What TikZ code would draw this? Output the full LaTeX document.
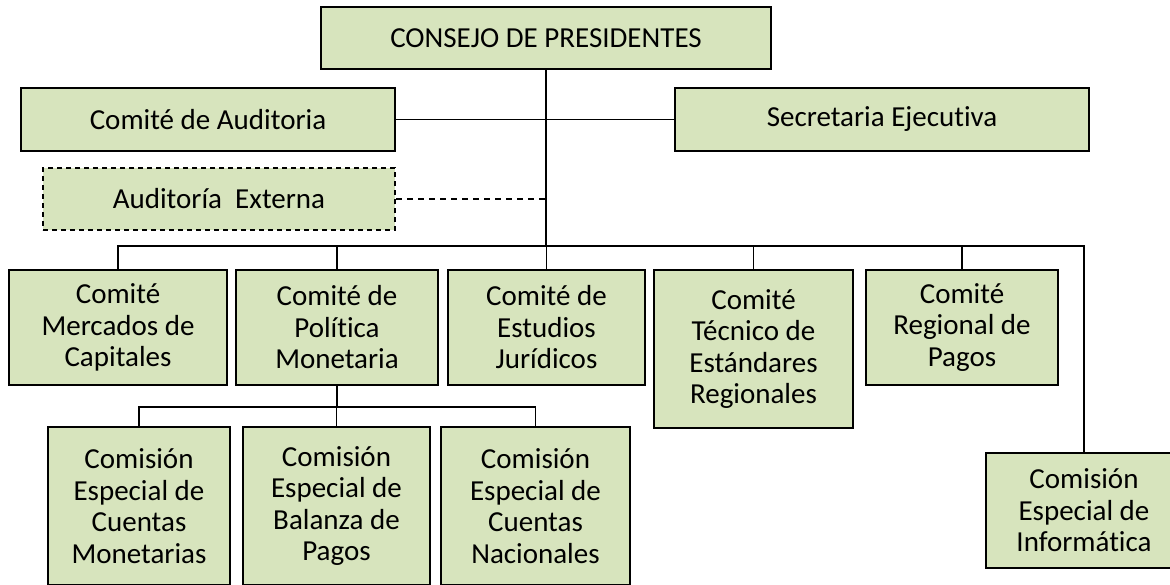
\documentclass[tikz,border=0pt]{standalone}
\usepackage{fontspec}
\setmainfont{Carlito}[Ligatures=NoCommon]
\definecolor{verde}{HTML}{D7E4BD}
\tikzset{
  caja/.style={draw=black, line width=2.2pt, fill=verde, inner sep=0pt, align=center,
    font=\fontsize{29}{31.5}\selectfont},
  linea/.style={line width=1.9pt}
}
\begin{document}
\begin{tikzpicture}[x=1pt, y=-1pt]
                \useasboundingbox (0,0) rectangle (1170,584);
                % top levels
                \node[caja, minimum width=450, minimum height=62] (consejo) at (546,38) {CONSEJO DE PRESIDENTES};
                \node[caja, minimum width=374, minimum height=63] (auditoria) at (208,119.5) {Comité de Auditoria};
                \node[caja, minimum width=414, minimum height=63] (secretaria) at (882,119.5) {Secretaria Ejecutiva};
                \node[caja, dash pattern=on 5pt off 4pt, minimum width=352, minimum height=62] (externa) at (219,199) {Auditoría\ \ Externa};
                % comites
                \node[caja, minimum width=218, minimum height=115] (mercados) at (118,327.5) {Comité\\Mercados de\\Capitales};
                \node[caja, minimum width=202, minimum height=115] (politica) at (337,327.5) {Comité de\\Política\\Monetaria};
                \node[caja, minimum width=197, minimum height=115] (juridicos) at (546.5,327.5) {Comité de\\Estudios\\Jurídicos};
                \node[caja, minimum width=199, minimum height=158] (tecnico) at (753.5,349) {Comité\\Técnico de\\Estándares\\Regionales};
                \node[caja, minimum width=192, minimum height=115] (pagos) at (962,327.5) {Comité\\Regional de\\Pagos};
                \node[caja, minimum width=196, minimum height=115] (informatica) at (1084,510.5) {Comisión\\Especial de\\Informática};
                % comisiones
                \node[caja, minimum width=182, minimum height=158] (monetarias) at (139,506) {Comisión\\Especial de\\Cuentas\\Monetarias};
                \node[caja, minimum width=187, minimum height=158] (balanza) at (336.5,506) {Comisión\\Especial de\\Balanza de\\Pagos};
                \node[caja, minimum width=189, minimum height=158] (nacionales) at (535.5,506) {Comisión\\Especial de\\Cuentas\\Nacionales};
                % lines
                \coordinate (bus) at (546,246);
                \coordinate (subbus) at (337,407);
                \draw[linea] (consejo.south) -- (bus);
                \draw[linea] (auditoria.east) -- (secretaria.west);
                \draw[linea, dash pattern=on 6pt off 5pt] (externa.east) -- (externa.east -| bus);
                \draw[linea] (mercados.north) |- (informatica.north |- bus) -- (informatica.north);
                \draw[linea] (politica.north) -- (politica.north |- bus);
                \draw[linea] (juridicos.north) -- (juridicos.north |- bus);
                \draw[linea] (tecnico.north) -- (tecnico.north |- bus);
                \draw[linea] (pagos.north) -- (pagos.north |- bus);
                \draw[linea] (politica.south) -- (subbus);
                \draw[linea] (monetarias.north) |- (nacionales.north |- subbus) -- (nacionales.north);
                \draw[linea] (balanza.north) -- (balanza.north |- subbus);
            \end{tikzpicture}
\end{document}
